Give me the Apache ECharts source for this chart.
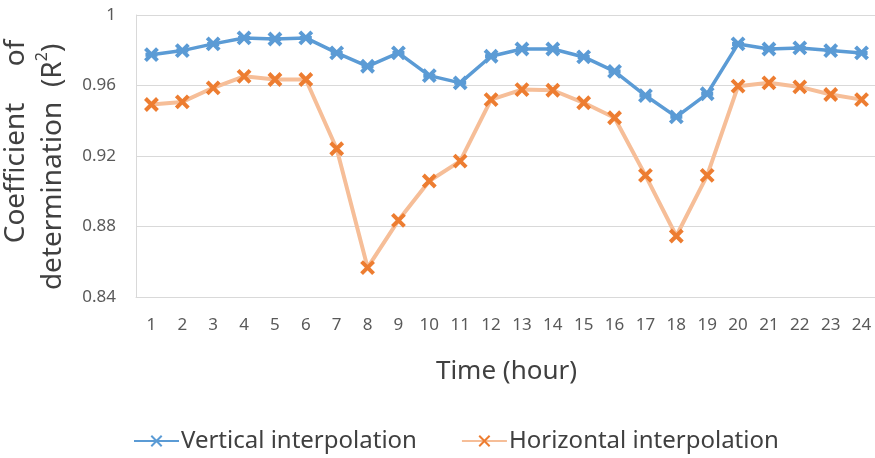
<!DOCTYPE html>
<html>
<head>
<meta charset="utf-8">
<script src="https://cdn.jsdelivr.net/npm/echarts@6/dist/echarts.min.js"></script>
<style>
  html, body { margin: 0; padding: 0; background: #fff; }
  #main { width: 875px; height: 458px; }
</style>
</head>
<body>
<div id="main"></div>
<script>
var hours = ['1','2','3','4','5','6','7','8','9','10','11','12','13','14','15','16','17','18','19','20','21','22','23','24'];
var vertical = [0.9775,0.9798,0.9836,0.9870,0.9864,0.9870,0.9785,0.9709,0.9785,0.9656,0.9615,0.9766,
                0.9807,0.9807,0.9762,0.9680,0.9543,0.9422,0.9553,0.9836,0.9807,0.9813,0.9798,0.9785];
var horizontal = [0.9492,0.9507,0.9587,0.9652,0.9634,0.9634,0.9241,0.8567,0.8835,0.9058,0.9171,0.9520,
                  0.9577,0.9573,0.9502,0.9417,0.9090,0.8746,0.9090,0.9596,0.9615,0.9592,0.9549,0.9520];
var yTicks = [0.84, 0.88, 0.92, 0.96, 1];

var font = 'Noto Sans';
var grey = '#595959';
var star = 'path://M0,0L10,10M10,0L0,10M0,5L10,5';
var cross = 'path://M0,0L10,10M10,0L0,10';

var chart = echarts.init(document.getElementById('main'));
chart.setOption({
  animation: false,
  textStyle: { fontFamily: font },
  grid: { left: 136, top: 15, width: 741, height: 282, outerBoundsMode: 'none', containLabel: false },
  legend: {
    top: 424, left: 128,
    itemWidth: 45, itemHeight: 13, itemGap: 44,
    textStyle: { fontSize: 24, color: '#404040', fontFamily: font, padding: [0, 0, 0, -3] },
    data: ['Vertical interpolation', 'Horizontal interpolation']
  },
  xAxis: {
    type: 'category',
    data: hours,
    boundaryGap: true,
    name: 'Time (hour)',
    nameLocation: 'middle',
    nameGap: 62,
    nameTextStyle: { fontSize: 26, color: '#404040' },
    axisLine: { lineStyle: { color: '#d9d9d9' } },
    axisTick: { show: false },
    axisLabel: { color: grey, fontSize: 17, margin: 20 }
  },
  yAxis: {
    type: 'value',
    min: 0.84, max: 1, interval: 0.04,
    name: '    Coefficient     of\ndetermination  (R{sup|2})   ',
    nameLocation: 'middle',
    nameRotate: 90,
    nameGap: 59,
    nameTextStyle: {
      fontSize: 28, color: '#404040', lineHeight: 37,
      rich: { sup: { fontSize: 16, verticalAlign: 'top', color: '#404040', lineHeight: 37, padding: [0, 0, 12, 0] } }
    },
    axisLine: { show: true, lineStyle: { color: '#d9d9d9' } },
    splitLine: { lineStyle: { color: '#d9d9d9' } },
    axisLabel: {
      color: grey, fontSize: 17, margin: 20,
      formatter: function (v) {
        var t = yTicks.find(function (k) { return Math.abs(k - v) < 1e-6; });
        return t === undefined ? '' : String(t);
      }
    }
  },
  series: [
    {
      name: 'Vertical interpolation',
      type: 'line',
      data: vertical,
      symbol: star,
      symbolSize: 12,
      lineStyle: { color: '#5B9BD5', width: 3.5 },
      itemStyle: { color: '#5B9BD5', borderColor: '#5B9BD5', borderWidth: 4 }
    },
    {
      name: 'Horizontal interpolation',
      type: 'line',
      data: horizontal,
      symbol: cross,
      symbolSize: 12,
      lineStyle: { color: '#F6BE98', width: 4 },
      itemStyle: { color: '#ED7D31', borderColor: '#ED7D31', borderWidth: 4 }
    }
  ]
});
</script>
</body>
</html>
